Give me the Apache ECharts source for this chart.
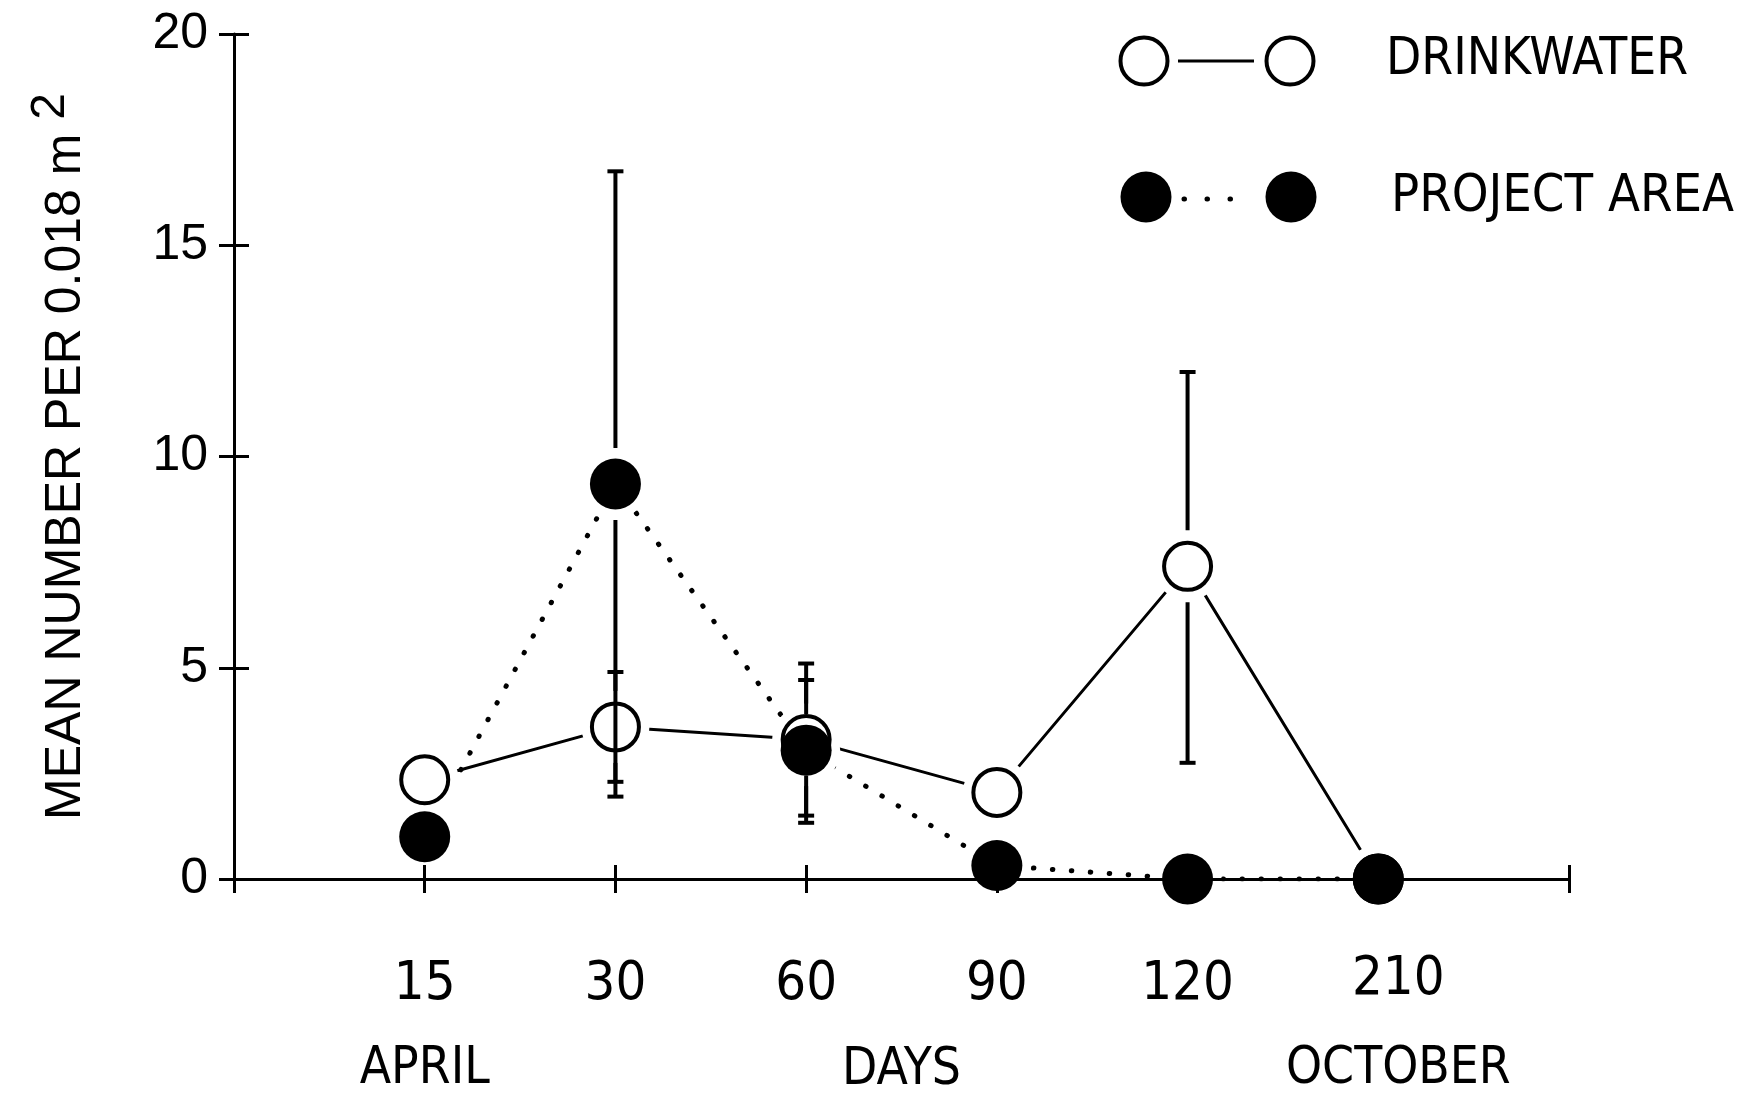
<!DOCTYPE html>
<html>
<head>
<meta charset="utf-8">
<script src="https://cdn.jsdelivr.net/npm/echarts@6/dist/echarts.min.js"></script>
<style>
  html, body { margin: 0; padding: 0; background: #fff; }
  #chart { width: 1745px; height: 1099px; }
</style>
</head>
<body>
<div id="chart"></div>
<script>
// sampling days (x categories) and the month notes printed under some of them
var days = ['15', '30', '60', '90', '120', '210'];
var monthLabels = ['APRIL', '', '', '', '', 'OCTOBER'];

// mean number per 0.018 m2
var drinkwater = [2.35, 3.6, 3.3, 2.05, 7.4, 0];
var projectArea = [1.0, 9.35, 3.05, 0.32, 0, 0];

// error bar ends (null = no bar)
var drinkLow = [null, 2.3, 1.5, null, 2.75, null];
var drinkHigh = [null, 4.9, 5.1, null, 12.0, null];
var projLow = [null, 1.95, 1.33, null, null, null];
var projHigh = [null, 16.75, 4.71, null, null, null];

var yTicks = [0, 5, 10, 15, 20];

var font = "'Liberation Sans', Arial, sans-serif";
var narrow = "'Liberation Sans Narrow', 'DejaVu Sans Condensed', 'Liberation Sans', sans-serif";

function points(vals) {
  return vals.map(function (v, i) { return [i + 1, v]; });
}
function bars(lo, hi, mid) {
  var out = [];
  for (var i = 0; i < lo.length; i++) {
    if (lo[i] != null) out.push([i + 1, lo[i], hi[i], mid[i]]);
  }
  return out;
}

function renderBar(params, api) {
  var x = api.value(0);
  var top = api.coord([x, api.value(2)]);
  var bot = api.coord([x, api.value(1)]);
  var mid = api.coord([x, api.value(3)]);
  var gap = 36, cap = 8;
  var st = { stroke: '#000', lineWidth: 4 };
  var kids = [
    { type: 'line', shape: { x1: top[0] - cap, y1: top[1], x2: top[0] + cap, y2: top[1] }, style: st },
    { type: 'line', shape: { x1: bot[0] - cap, y1: bot[1], x2: bot[0] + cap, y2: bot[1] }, style: st }
  ];
  if (top[1] < mid[1] - gap) {
    kids.push({ type: 'line', shape: { x1: top[0], y1: top[1], x2: top[0], y2: mid[1] - gap }, style: st });
  }
  if (bot[1] > mid[1] + gap) {
    kids.push({ type: 'line', shape: { x1: bot[0], y1: mid[1] + gap, x2: bot[0], y2: bot[1] }, style: st });
  }
  return { type: 'group', children: kids };
}

var myChart = echarts.init(document.getElementById('chart'));

myChart.setOption({
  animation: false,
  backgroundColor: '#fff',
  grid: { left: 234, right: 176, top: 34, bottom: 220, containLabel: false, outerBoundsMode: 'none' },
  xAxis: [
    {
      type: 'value', min: 0, max: 7, interval: 1, z: 4,
      name: 'DAYS', nameLocation: 'middle', nameGap: 166, nameMoveOverlap: false,
      nameTextStyle: { fontFamily: narrow, fontSize: 51, color: '#000' },
      axisLine: { lineStyle: { color: '#000', width: 3 } },
      axisTick: { length: 14, lineStyle: { color: '#000', width: 3 } },
      splitLine: { show: false },
      axisLabel: {
        margin: 78,
        color: '#000',
        formatter: function (v) {
          var i = Math.round(v) - 1;
          if (i < 0 || i >= days.length) return '';
          // the last column is printed a little right of its tick
          var last = i === days.length - 1;
          var s = '{' + (last ? 'dl' : 'd') + '|' + days[i] + '}';
          if (monthLabels[i]) s += '\n{' + (last ? 'ml' : 'm') + '|' + monthLabels[i] + '}';
          return s;
        },
        rich: {
          d: { fontFamily: narrow, fontSize: 54, lineHeight: 56, color: '#000' },
          dl: { fontFamily: narrow, fontSize: 54, lineHeight: 56, color: '#000', padding: [0, 0, 10, 40] },
          m: { fontFamily: narrow, fontSize: 51, lineHeight: 114, color: '#000' },
          ml: { fontFamily: narrow, fontSize: 51, lineHeight: 114, color: '#000', padding: [0, 0, 0, 40] }
        }
      }
    },
    {
      type: 'value', min: 0, max: 7, interval: 1, position: 'bottom', z: 4,
      axisLine: { show: false },
      axisTick: { inside: true, length: 14, lineStyle: { color: '#000', width: 3 } },
      axisLabel: { show: false },
      splitLine: { show: false }
    }
  ],
  yAxis: [
    {
      type: 'value', min: yTicks[0], max: yTicks[yTicks.length - 1], interval: 5, z: 4,
      name: 'MEAN NUMBER PER 0.018 m {s|2}', nameLocation: 'middle', nameRotate: 90, nameGap: 129,
      nameMoveOverlap: false,
      nameTextStyle: {
        fontFamily: font, fontSize: 50, color: '#000',
        rich: { s: { fontFamily: font, fontSize: 48, color: '#000', padding: [0, 0, 30, 0] } }
      },
      axisLine: { lineStyle: { color: '#000', width: 3 } },
      axisTick: { length: 15, lineStyle: { color: '#000', width: 3 } },
      splitLine: { show: false },
      axisLabel: { margin: 26, fontFamily: font, fontSize: 50, color: '#000' }
    },
    {
      type: 'value', min: 0, max: 20, interval: 5, position: 'left', z: 4,
      axisLine: { show: false },
      axisTick: { inside: true, length: 15, lineStyle: { color: '#000', width: 3 } },
      axisLabel: { show: false },
      splitLine: { show: false }
    }
  ],
  graphic: [
    // legend
    { type: 'circle', shape: { cx: 1144, cy: 61, r: 23.5 }, style: { fill: 'none', stroke: '#000', lineWidth: 4 } },
    { type: 'line', shape: { x1: 1178, y1: 61, x2: 1254, y2: 61 }, style: { stroke: '#000', lineWidth: 3 } },
    { type: 'circle', shape: { cx: 1290, cy: 61, r: 23.5 }, style: { fill: 'none', stroke: '#000', lineWidth: 4 } },
    { type: 'text', x: 1386, y: 61, style: { text: 'DRINKWATER', fontFamily: narrow, fontSize: 51, fill: '#000', verticalAlign: 'middle' } },
    { type: 'circle', shape: { cx: 1146, cy: 197, r: 25.5 }, style: { fill: '#000' } },
    { type: 'line', shape: { x1: 1184, y1: 199, x2: 1253, y2: 199 }, style: { stroke: '#000', lineWidth: 5, lineCap: 'round', lineDash: [0.5, 22.5] } },
    { type: 'circle', shape: { cx: 1291, cy: 197, r: 25.5 }, style: { fill: '#000' } },
    { type: 'text', x: 1391, y: 197, style: { text: 'PROJECT AREA', fontFamily: narrow, fontSize: 52, fill: '#000', verticalAlign: 'middle' } }
  ],
  series: [
    {
      name: 'DRINKWATER', type: 'line', data: points(drinkwater), z: 2,
      showSymbol: false, lineStyle: { color: '#000', width: 3 }
    },
    {
      name: 'PROJECT AREA', type: 'line', data: points(projectArea), z: 2,
      showSymbol: false, lineStyle: { color: '#000', width: 5, type: [0.5, 18.5], cap: 'round' }
    },
    {
      // white halo so the lines stop short of the circles
      type: 'scatter', data: points(drinkwater).concat(points(projectArea)), z: 3,
      symbol: 'circle', symbolSize: 68, itemStyle: { color: '#fff', opacity: 1 }, silent: true
    },
    {
      type: 'scatter', data: points(drinkwater), z: 5,
      symbol: 'circle', symbolSize: 47,
      itemStyle: { color: 'rgba(255,255,255,0)', borderColor: '#000', borderWidth: 4, opacity: 1 }
    },
    {
      type: 'scatter', data: points(projectArea), z: 6,
      symbol: 'circle', symbolSize: 51, itemStyle: { color: '#000', opacity: 1 }
    },
    { type: 'custom', data: bars(drinkLow, drinkHigh, drinkwater), renderItem: renderBar, z: 7 },
    { type: 'custom', data: bars(projLow, projHigh, projectArea), renderItem: renderBar, z: 7 }
  ]
});
</script>
</body>
</html>
